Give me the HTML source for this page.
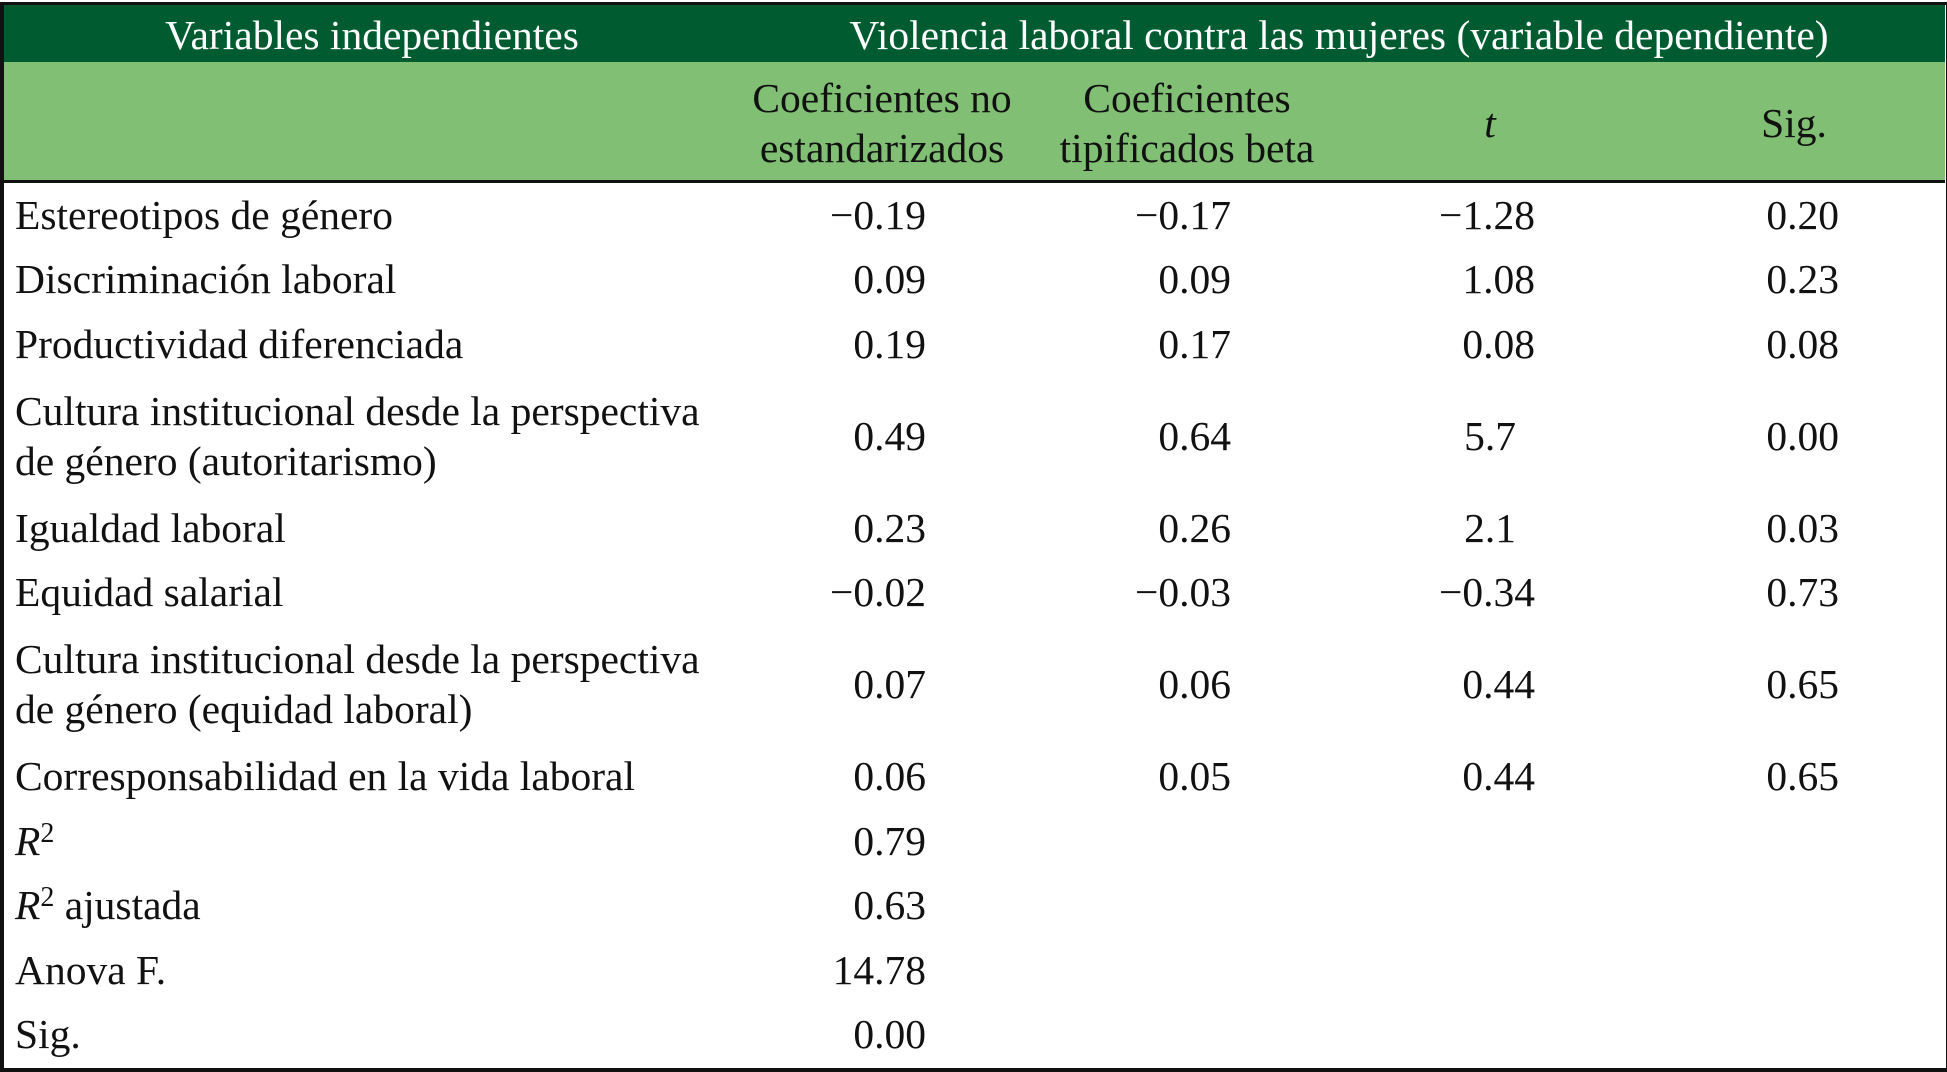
<!DOCTYPE html>
<html><head><meta charset="utf-8"><style>
body{margin:0;width:1947px;height:1070px;background:#fff;position:relative;overflow:hidden;font-family:"Liberation Serif","Times New Roman",Tinos,"DejaVu Serif",serif;font-size:41.5px;color:#111}
.a{position:absolute;line-height:50px;white-space:nowrap}
.r{text-align:right}
.c{text-align:center}
</style></head><body>
<div style="position:absolute;left:0;top:2px;width:1942px;height:1063px;border-left:4px solid #111;border-right:2px solid #111;border-top:3px solid #111;border-bottom:4px solid #111"></div>
<div style="position:absolute;left:4px;top:5px;width:1941px;height:57px;background:#005C30"></div>
<div style="position:absolute;left:4px;top:62px;width:1941px;height:118px;background:#80BF74"></div>
<div style="position:absolute;left:4px;top:180px;width:1941px;height:3px;background:#111"></div>
<div class="a c" style="left:122px;width:500px;top:10px;color:#fff">Variables independientes</div>
<div class="a c" style="left:789px;width:1100px;top:10px;color:#fff">Violencia laboral contra las mujeres (variable dependiente)</div>
<div class="a c" style="left:732px;width:300px;top:73px">Coeficientes no<br>estandarizados</div>
<div class="a c" style="left:1037px;width:300px;top:73px">Coeficientes<br>tipificados beta</div>
<div class="a c" style="left:1440px;width:100px;top:98px;font-style:italic">t</div>
<div class="a c" style="left:1734px;width:120px;top:98px">Sig.</div>
<div id="rows"></div>
<script>
const labels=["Estereotipos de género","Discriminación laboral","Productividad diferenciada","Cultura institucional desde la perspectiva<br>de género (autoritarismo)","Igualdad laboral","Equidad salarial","Cultura institucional desde la perspectiva<br>de género (equidad laboral)","Corresponsabilidad en la vida laboral","<i>R</i><sup style='font-size:28px;vertical-align:13px;line-height:0'>2</sup>","<i>R</i><sup style='font-size:28px;vertical-align:13px;line-height:0'>2</sup> ajustada","Anova F.","Sig."];
const centers=[215,279,344,436,528,592,684,776,841,905,970,1034];
const colB=["−0.19","0.09","0.19","0.49","0.23","−0.02","0.07","0.06","0.79","0.63","14.78","0.00"];
const colBeta=["−0.17","0.09","0.17","0.64","0.26","−0.03","0.06","0.05","","","",""];
const colT=["−1.28","1.08","0.08","5.7","2.1","−0.34","0.44","0.44","","","",""];
const colSig=["0.20","0.23","0.08","0.00","0.03","0.73","0.65","0.65","","","",""];
const rightEdges=[926,1231,1535,1839];
const root=document.getElementById('rows');
labels.forEach((lab,i)=>{
  const two=lab.includes('<br>');
  const d=document.createElement('div');
  d.className='a';
  d.style.left='15px';
  d.style.top=(centers[i]-(two?50:25))+'px';
  d.innerHTML=lab;
  
  
  root.appendChild(d);
  [colB,colBeta,colT,colSig].forEach((col,j)=>{
    if(!col[i])return;
    const v=document.createElement('div');
    v.className='a r';
    v.style.left=(rightEdges[j]-200)+'px';
    v.style.width='200px';
    v.style.top=(centers[i]-25)+'px';
    v.textContent=col[i];
    if(j===2&&(col[i]==='5.7'||col[i]==='2.1'))v.style.width='181px';
    
    
    root.appendChild(v);
  });
});
</script>
</body></html>
